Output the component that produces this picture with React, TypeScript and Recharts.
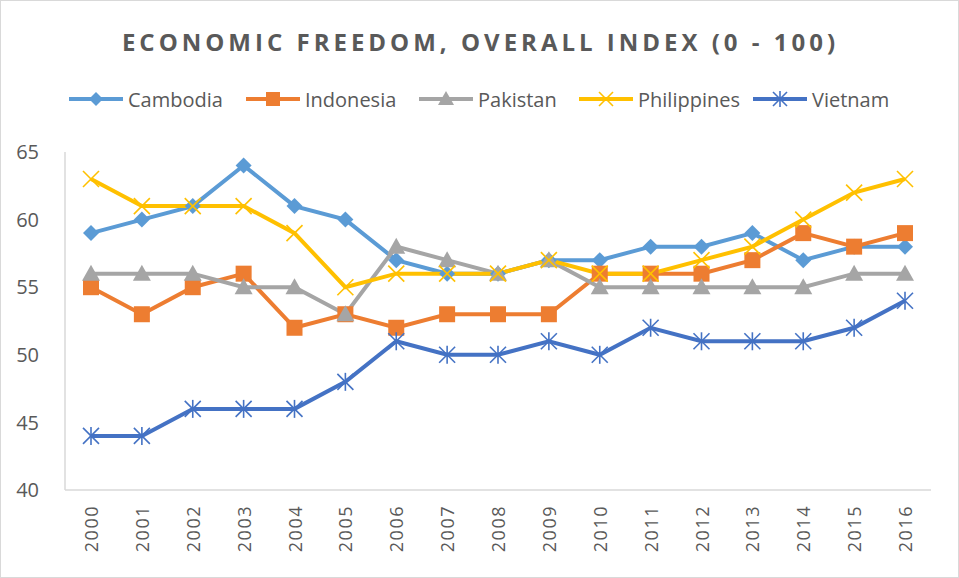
import React from 'react';
import { LineChart, Line, XAxis, YAxis } from 'recharts';

const years = ['2000', '2001', '2002', '2003', '2004', '2005', '2006', '2007', '2008', '2009', '2010', '2011', '2012', '2013', '2014', '2015', '2016'];
const cambodia = [59, 60, 61, 64, 61, 60, 57, 56, 56, 57, 57, 58, 58, 59, 57, 58, 58];
const indonesia = [55, 53, 55, 56, 52, 53, 52, 53, 53, 53, 56, 56, 56, 57, 59, 58, 59];
const pakistan = [56, 56, 56, 55, 55, 53, 58, 57, 56, 57, 55, 55, 55, 55, 55, 56, 56];
const philippines = [63, 61, 61, 61, 59, 55, 56, 56, 56, 57, 56, 56, 57, 58, 60, 62, 63];
const vietnam = [44, 44, 46, 46, 46, 48, 51, 50, 50, 51, 50, 52, 51, 51, 51, 52, 54];
const yTicks = [40, 45, 50, 55, 60, 65];

const data = years.map((y, i) => ({
  year: y,
  Cambodia: cambodia[i],
  Indonesia: indonesia[i],
  Pakistan: pakistan[i],
  Philippines: philippines[i],
  Vietnam: vietnam[i],
}));

const FONT = '"Open Sans", "Liberation Sans", sans-serif';
const TEXT = '#595959';

type Kind = 'diamond' | 'square' | 'triangle' | 'x' | 'star';

const series: { key: string; color: string; kind: Kind }[] = [
  { key: 'Cambodia', color: '#5B9BD5', kind: 'diamond' },
  { key: 'Indonesia', color: '#ED7D31', kind: 'square' },
  { key: 'Pakistan', color: '#A5A5A5', kind: 'triangle' },
  { key: 'Philippines', color: '#FFC000', kind: 'x' },
  { key: 'Vietnam', color: '#4472C4', kind: 'star' },
];

const marker = (kind: Kind, cx: number, cy: number, color: string, s = 8, key?: any) => {
  switch (kind) {
    case 'diamond':
      return <path key={key} d={`M${cx},${cy - s} L${cx + s},${cy} L${cx},${cy + s} L${cx - s},${cy} Z`} fill={color} />;
    case 'square':
      return <rect key={key} x={cx - s} y={cy - s} width={2 * s} height={2 * s} fill={color} />;
    case 'triangle':
      return <path key={key} d={`M${cx},${cy - s - 1} L${cx + s + 1},${cy + s - 1} L${cx - s - 1},${cy + s - 1} Z`} fill={color} />;
    case 'x':
      return (
        <g key={key} stroke={color} strokeWidth={1.6}>
          <line x1={cx - s} y1={cy - s} x2={cx + s} y2={cy + s} />
          <line x1={cx - s} y1={cy + s} x2={cx + s} y2={cy - s} />
        </g>
      );
    default:
      return (
        <g key={key} stroke={color} strokeWidth={1.6}>
          <line x1={cx - s} y1={cy - s} x2={cx + s} y2={cy + s} />
          <line x1={cx - s} y1={cy + s} x2={cx + s} y2={cy - s} />
          <line x1={cx} y1={cy - s - 1} x2={cx} y2={cy + s + 1} />
        </g>
      );
  }
};

const makeDot = (kind: Kind, color: string) => (props: any) => {
  const { cx, cy, index } = props;
  if (cx == null || cy == null) return <g key={index} />;
  return marker(kind, cx, cy, color, 8, index);
};

const XTick = (props: any) => {
  const { x, payload } = props;
  return (
    <text
      x={0}
      y={0}
      transform={`translate(${x},505) rotate(-90)`}
      textAnchor="end"
      dominantBaseline="central"
      fill={TEXT}
      fontSize={18}
      fontFamily={FONT}
      letterSpacing={1.5}
    >
      {payload.value}
    </text>
  );
};

const LegendRow = () => {
  const starts = [68, 245, 418, 578, 752];
  return (
    <svg width={959} height={30} style={{ position: 'absolute', left: 0, top: 83, display: 'block' }}>
      {series.map((s, i) => {
        const x0 = starts[i];
        return (
          <g key={s.key}>
            <line x1={x0} y1={15} x2={x0 + 54} y2={15} stroke={s.color} strokeWidth={4} />
            {marker(s.kind, x0 + 27, 15, s.color, 7)}
            <text x={x0 + 59} y={15} dominantBaseline="central" fill={TEXT} fontSize={20} fontFamily={FONT}>
              {s.key}
            </text>
          </g>
        );
      })}
    </svg>
  );
};

export default function App() {
  return (
    <div
      style={{
        position: 'absolute',
        left: 0,
        top: 0,
        width: 959,
        height: 578,
        boxSizing: 'border-box',
        border: '1px solid #d9d9d9',
        background: '#fff',
        overflow: 'hidden',
      }}
    >
      <div
        style={{
          position: 'absolute',
          left: 0,
          top: 24,
          width: 959,
          textAlign: 'center',
          fontFamily: FONT,
          fontWeight: 700,
          fontSize: 24,
          letterSpacing: 4,
          color: TEXT,
        }}
      >
        ECONOMIC FREEDOM, OVERALL INDEX (0 - 100)
      </div>
      <div style={{ position: 'absolute', left: -1, top: -1 }}>
        <LineChart width={959} height={578} data={data} margin={{ top: 152, right: 28, bottom: 8, left: 8 }}>
          <XAxis
            dataKey="year"
            tick={<XTick />}
            tickLine={false}
            axisLine={{ stroke: '#d9d9d9', strokeWidth: 1.5 }}
            height={80}
            interval={0}
            padding={{ left: 26, right: 26 }}
          />
          <YAxis
            domain={[40, 65]}
            ticks={yTicks}
            width={57}
            tickLine={false}
            axisLine={{ stroke: '#d9d9d9', strokeWidth: 1.5 }}
            tick={{ fill: TEXT, fontSize: 20, fontFamily: FONT }}
            tickMargin={20}
          />
          {series.map((s) => (
            <Line
              key={s.key}
              type="linear"
              dataKey={s.key}
              stroke={s.color}
              strokeWidth={4}
              dot={makeDot(s.kind, s.color)}
              activeDot={false}
              isAnimationActive={false}
            />
          ))}
        </LineChart>
      </div>
      <LegendRow />
    </div>
  );
}
